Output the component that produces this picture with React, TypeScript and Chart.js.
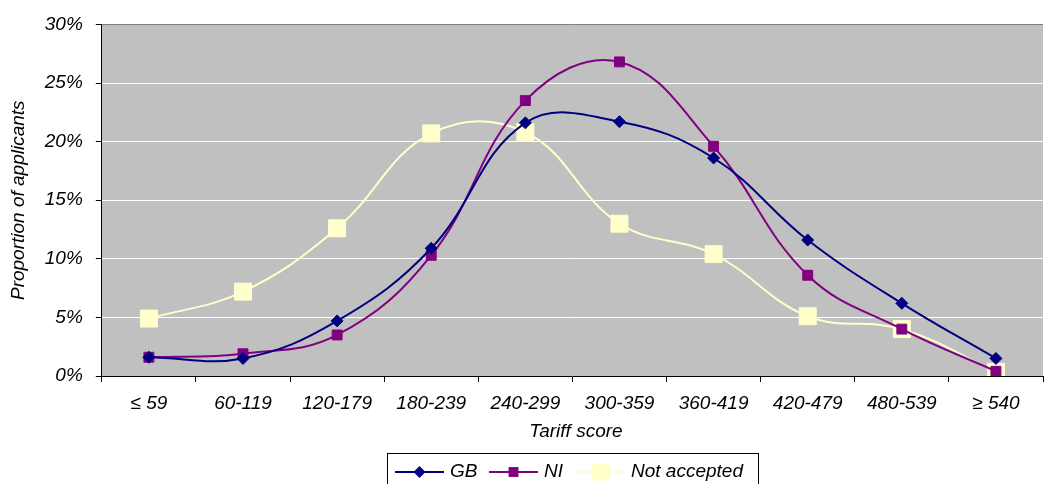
import React, { useEffect, useRef } from 'react';
import { Chart, registerables } from 'chart.js';

Chart.register(...registerables);

const categories = ['≤ 59', '60-119', '120-179', '180-239', '240-299', '300-359', '360-419', '420-479', '480-539', '≥ 540'];
const gbValues = [1.6, 1.5, 4.7, 10.9, 21.6, 21.7, 18.6, 11.6, 6.2, 1.5];
const niValues = [1.6, 1.9, 3.5, 10.3, 23.5, 26.8, 19.6, 8.6, 4.0, 0.4];
const notAcceptedValues = [4.9, 7.2, 12.6, 20.7, 20.8, 13.0, 10.4, 5.1, 4.0, 0.35];
const yTickValues = [0, 5, 10, 15, 20, 25, 30];
const seriesNames = ['GB', 'NI', 'Not accepted'];
const xTitle = 'Tariff score';
const yTitle = 'Proportion of applicants';

const FONT = "'Liberation Sans', Arial, sans-serif";
const FS = 19;

const plotBgPlugin = {
  id: 'plotBg',
  beforeDraw(chart: any) {
    const { ctx, chartArea } = chart;
    ctx.save();
    ctx.fillStyle = '#C0C0C0';
    ctx.fillRect(chartArea.left, chartArea.top, chartArea.right - chartArea.left, chartArea.bottom - chartArea.top);
    ctx.restore();
  },
};

const legendPlugin = {
  id: 'boxLegend',
  afterDraw(chart: any) {
    const { ctx } = chart;
    ctx.save();
    // x-axis title
    ctx.font = `italic ${FS}px ${FONT}`;
    ctx.fillStyle = '#000';
    ctx.textAlign = 'center';
    ctx.textBaseline = 'middle';
    ctx.fillText(xTitle, 576, 432);

    const left = 387.5, top = 453.5, right = 758.5, bottom = 490;
    ctx.strokeStyle = '#000';
    ctx.lineWidth = 1;
    ctx.strokeRect(left, top, right - left, bottom - top);
    const cy = 472;
    const entries = [
      { x: 395, color: '#000080', style: 'rectRot', r: 6 },
      { x: 489, color: '#800080', style: 'rect', r: 7 },
      { x: 576, color: '#FFFFCC', style: 'rect', r: 12 },
    ];
    ctx.textAlign = 'left';
    entries.forEach((e, i) => {
      ctx.strokeStyle = e.color;
      ctx.lineWidth = 2;
      ctx.beginPath();
      ctx.moveTo(e.x, cy);
      ctx.lineTo(e.x + 49, cy);
      ctx.stroke();
      ctx.fillStyle = e.color;
      const mx = e.x + 24.5;
      const s = e.style === 'rect' ? e.r * Math.SQRT1_2 : e.r;
      ctx.beginPath();
      if (e.style === 'rect') {
        ctx.rect(mx - s, cy - s, 2 * s, 2 * s);
      } else {
        ctx.moveTo(mx, cy - s);
        ctx.lineTo(mx + s, cy);
        ctx.lineTo(mx, cy + s);
        ctx.lineTo(mx - s, cy);
        ctx.closePath();
      }
      ctx.fill();
      ctx.fillStyle = '#000';
      ctx.fillText(seriesNames[i], e.x + 55, cy);
    });
    ctx.restore();
  },
};

export default function App() {
  const ref = useRef<HTMLCanvasElement>(null);
  useEffect(() => {
    document.body.style.margin = '0';
    const chart = new Chart(ref.current!, {
      type: 'line',
      data: {
        labels: categories,
        datasets: [
          {
            label: seriesNames[0],
            data: gbValues,
            borderColor: '#000080',
            backgroundColor: '#000080',
            borderWidth: 2,
            pointStyle: 'rectRot',
            pointRadius: 6,
            pointBorderWidth: 1,
            tension: 0.4,
          },
          {
            label: seriesNames[1],
            data: niValues,
            borderColor: '#800080',
            backgroundColor: '#800080',
            borderWidth: 2,
            pointStyle: 'rect',
            pointRadius: 7,
            pointBorderWidth: 1,
            tension: 0.4,
          },
          {
            label: seriesNames[2],
            data: notAcceptedValues,
            borderColor: '#FFFFCC',
            backgroundColor: '#FFFFCC',
            borderWidth: 2,
            pointStyle: 'rect',
            pointRadius: 12,
            pointBorderWidth: 1,
            tension: 0.4,
          },
        ],
      },
      options: {
        animation: false,
        responsive: false,
        layout: { padding: { top: 22, bottom: 58, left: 0, right: 0 } },
        plugins: {
          legend: { display: false },
          tooltip: { enabled: false },
        },
        scales: {
          x: {
            type: 'category',
            offset: true,
            afterFit(scale: any) {
              scale.height = 50;
            },
            grid: {
              offset: true,
              drawOnChartArea: false,
              tickLength: 6,
              tickColor: '#000',
            },
            border: { color: '#000', width: 1 },
            ticks: {
              color: '#000',
              font: { family: FONT, style: 'italic', size: FS },
              padding: 10,
              maxRotation: 0,
              autoSkip: false,
            },
          },
          y: {
            min: 0,
            max: 30,
            afterBuildTicks(scale: any) {
              scale.ticks = yTickValues.map((v) => ({ value: v }));
            },
            grid: {
              color: (c: any) => (c.tick && c.tick.value === 30 ? '#808080' : c.tick && c.tick.value === 0 ? 'rgba(0,0,0,0)' : '#FFFFFF'),
              tickColor: '#000',
              tickLength: 6,
              lineWidth: 1,
            },
            border: { color: '#000', width: 1 },
            ticks: {
              color: '#000',
              font: { family: FONT, style: 'italic', size: FS },
              padding: 13,
              callback: (v: any) => `${v}%`,
            },
            title: {
              display: true,
              text: yTitle,
              color: '#000',
              font: { family: FONT, style: 'italic', size: FS },
              padding: { top: 7, bottom: 2 },
            },
          },
        },
      },
      plugins: [plotBgPlugin, legendPlugin],
    });
    return () => chart.destroy();
  }, []);
  return (
    <div style={{ position: 'absolute', left: 0, top: 0, width: 1045, height: 484, overflow: 'hidden' }}>
      <canvas ref={ref} width={1056} height={484} style={{ display: 'block' }} />
    </div>
  );
}
